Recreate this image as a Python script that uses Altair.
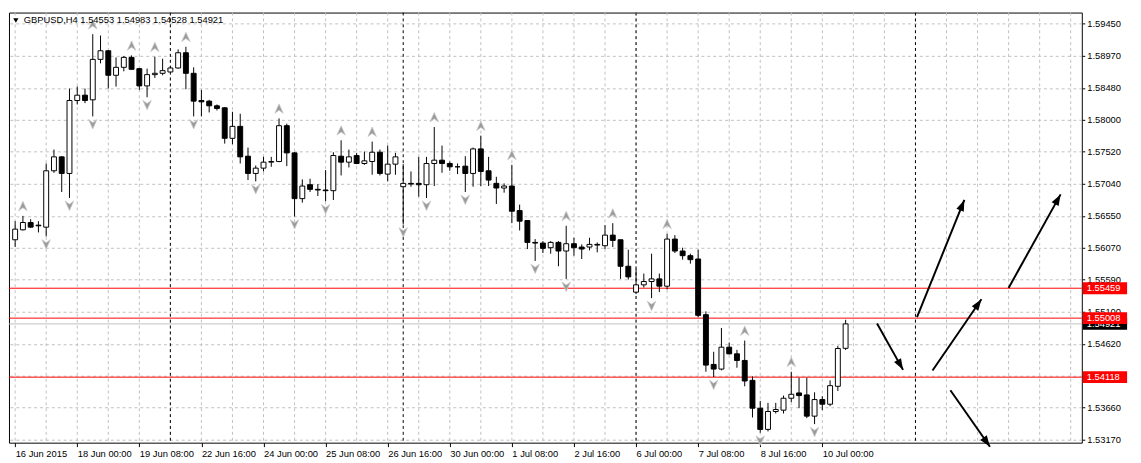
import json
import math
import altair as alt
import pandas as pd

# ---------------- data ----------------
opens = [1.5619, 1.5634, 1.5645, 1.5641, 1.5638, 1.5723, 1.5744, 1.5719, 1.5829, 1.5837,
         1.5830, 1.5891, 1.5904, 1.5867, 1.5879, 1.5894, 1.5877, 1.5851, 1.5868, 1.5870,
         1.5872, 1.5878, 1.5901, 1.5870, 1.5829, 1.5828, 1.5821, 1.5818, 1.5772, 1.5790,
         1.5745, 1.5719, 1.5727, 1.5736, 1.5737, 1.5791, 1.5750, 1.5681, 1.5702, 1.5695,
         1.5694, 1.5693, 1.5745, 1.5736, 1.5746, 1.5734, 1.5737, 1.5751, 1.5718, 1.5733,
         1.5699, 1.5704, 1.5704, 1.5702, 1.5734, 1.5739, 1.5734, 1.5729, 1.5730, 1.5719,
         1.5756, 1.5723, 1.5704, 1.5697, 1.5700, 1.5663, 1.5648, 1.5615, 1.5614, 1.5607,
         1.5615, 1.5602, 1.5613, 1.5608, 1.5608, 1.5612, 1.5610, 1.5626, 1.5619, 1.5579,
         1.5540, 1.5551, 1.5556, 1.5560, 1.5549, 1.5620, 1.5602, 1.5595, 1.5590, 1.5506,
         1.5431, 1.5424, 1.5457, 1.5447, 1.5437, 1.5407, 1.5365, 1.5333, 1.5360, 1.5362,
         1.5380, 1.5388, 1.5385, 1.5353, 1.5378, 1.5371, 1.5398, 1.54553]
highs = [1.5647, 1.5655, 1.5650, 1.5647, 1.5734, 1.5755, 1.5745, 1.5847, 1.5850, 1.5847,
         1.5929, 1.5927, 1.5905, 1.5894, 1.5896, 1.5897, 1.5878, 1.5877, 1.5895, 1.5892,
         1.5881, 1.5906, 1.5910, 1.5879, 1.5845, 1.5830, 1.5823, 1.5819, 1.5812, 1.5809,
         1.5758, 1.5731, 1.5744, 1.5744, 1.5802, 1.5794, 1.5751, 1.5710, 1.5711, 1.5703,
         1.5724, 1.5751, 1.5769, 1.5755, 1.5750, 1.5752, 1.5767, 1.5755, 1.5761, 1.5750,
         1.5733, 1.5722, 1.5744, 1.5744, 1.5789, 1.5761, 1.5737, 1.5734, 1.5745, 1.5758,
         1.5776, 1.5744, 1.5714, 1.5704, 1.5732, 1.5672, 1.5648, 1.5620, 1.5617, 1.5617,
         1.5617, 1.5640, 1.5622, 1.5612, 1.5622, 1.5615, 1.5641, 1.5644, 1.5619, 1.5604,
         1.5575, 1.5568, 1.5598, 1.5568, 1.5628, 1.5626, 1.5607, 1.5598, 1.5604, 1.5511,
         1.5450, 1.5486, 1.5464, 1.5453, 1.5467, 1.5413, 1.5376, 1.5373, 1.5373, 1.5384,
         1.5420, 1.5411, 1.5411, 1.5389, 1.5383, 1.5407, 1.5459, 1.54983]
lows = [1.5608, 1.5633, 1.5637, 1.5630, 1.5624, 1.5720, 1.5691, 1.5682, 1.5823, 1.5825,
        1.5805, 1.5885, 1.5847, 1.5850, 1.5873, 1.5876, 1.5845, 1.5834, 1.5863, 1.5867,
        1.5872, 1.5877, 1.5846, 1.5805, 1.5805, 1.5811, 1.5814, 1.5764, 1.5763, 1.5734,
        1.5709, 1.5707, 1.5722, 1.5729, 1.5736, 1.5730, 1.5654, 1.5675, 1.5691, 1.5685,
        1.5677, 1.5679, 1.5716, 1.5728, 1.5733, 1.5732, 1.5717, 1.5716, 1.5707, 1.5717,
        1.5642, 1.5699, 1.5684, 1.5682, 1.5700, 1.5720, 1.5723, 1.5718, 1.5691, 1.5699,
        1.5700, 1.5700, 1.5673, 1.5690, 1.5644, 1.5633, 1.5605, 1.5587, 1.5599, 1.5598,
        1.5579, 1.5560, 1.5595, 1.5590, 1.5603, 1.5600, 1.5605, 1.5608, 1.5560, 1.5559,
        1.5537, 1.5547, 1.5531, 1.5540, 1.5544, 1.5599, 1.5589, 1.5583, 1.5502, 1.5420,
        1.5412, 1.5422, 1.5446, 1.5426, 1.5398, 1.5351, 1.5328, 1.5330, 1.5357, 1.5357,
        1.5374, 1.5365, 1.5350, 1.5341, 1.5362, 1.5368, 1.5391, 1.54528]
closes = [1.5635, 1.5645, 1.5638, 1.5640, 1.5723, 1.5744, 1.5719, 1.5829, 1.5837, 1.5829,
          1.5891, 1.5904, 1.5867, 1.5879, 1.5894, 1.5876, 1.5851, 1.5868, 1.5870, 1.5874,
          1.5878, 1.5901, 1.5870, 1.5828, 1.5827, 1.5821, 1.5817, 1.5772, 1.5790, 1.5744,
          1.5719, 1.5727, 1.5736, 1.5737, 1.5791, 1.5750, 1.5681, 1.5700, 1.5695, 1.5694,
          1.5693, 1.5746, 1.5736, 1.5744, 1.5734, 1.5738, 1.5751, 1.5719, 1.5733, 1.5744,
          1.5704, 1.5703, 1.5702, 1.5734, 1.5739, 1.5734, 1.5729, 1.5729, 1.5719, 1.5756,
          1.5722, 1.5709, 1.5697, 1.5700, 1.5662, 1.5647, 1.5615, 1.5614, 1.5606, 1.5615,
          1.5602, 1.5613, 1.5607, 1.5605, 1.5612, 1.5611, 1.5626, 1.5618, 1.5579, 1.5563,
          1.5551, 1.5556, 1.5560, 1.5549, 1.5620, 1.5602, 1.5595, 1.5589, 1.5505, 1.5430,
          1.5424, 1.5457, 1.5447, 1.5437, 1.5406, 1.5365, 1.5333, 1.5360, 1.5363, 1.5380,
          1.5386, 1.5384, 1.5353, 1.5378, 1.5371, 1.5399, 1.5455, 1.54921]

fractal_up = [1, 10, 15, 18, 22, 34, 42, 46, 54, 60, 64, 71, 77, 84, 94, 100]
fractal_down = [4, 7, 10, 17, 23, 31, 36, 40, 50, 53, 58, 67, 71, 82, 90, 96, 103]

tick_bars = [0, 8, 16, 24, 32, 40, 48, 56, 64, 72, 80, 88, 96, 104]
tick_labels = ["16 Jun 2015", "18 Jun 00:00", "19 Jun 08:00", "22 Jun 16:00",
               "24 Jun 00:00", "25 Jun 08:00", "26 Jun 16:00", "30 Jun 00:00",
               "1 Jul 08:00", "2 Jul 16:00", "6 Jul 00:00", "7 Jul 08:00",
               "8 Jul 16:00", "10 Jul 00:00"]
price_ticks = [1.59450, 1.58970, 1.58480, 1.58000, 1.57520, 1.57040, 1.56550,
               1.56070, 1.55590, 1.55100, 1.54620, 1.54140, 1.53660, 1.53170]
hidden_tick = 1.54140   # its label sits under the 1.54118 box in the reference
grid_bars = list(range(0, 137, 4))
separators = [20, 50, 80, 116]
red_levels = [1.55459, 1.55008, 1.54118]
bid_level = 1.54921

# hand-drawn trend arrows (bar index, price) start -> end
arr_k0 = [111.05, 116.2, 118.2, 120.5, 128.0]
arr_p0 = [1.54927, 1.55023, 1.54218, 1.53921, 1.55463]
arr_k1 = [114.4, 122.3, 124.5, 125.6, 134.7]
arr_p1 = [1.54228, 1.56790, 1.55293, 1.53068, 1.56874]

symbol = "GBPUSD,H4"

# ---------------- layout / style ----------------
W, H = 1090, 437
X_DOM = [-0.16, 136.8]
Y_DOM = [1.53130, 1.59616]
FONT = "Liberation Sans"
FS = 9.5
GRID = "#c0c0c0"

candles = pd.DataFrame({"k": list(range(len(opens))), "open": opens, "high": highs,
                        "low": lows, "close": closes})
up_df = pd.DataFrame({"k": fractal_up, "price": [highs[i] for i in fractal_up]})
dn_df = pd.DataFrame({"k": fractal_down, "price": [lows[i] for i in fractal_down]})

sx = W / (X_DOM[1] - X_DOM[0])
sy = H / (Y_DOM[1] - Y_DOM[0])
angles = [math.degrees(math.atan2((b - a) * sx, (d - c) * sy)) % 360
          for a, b, c, d in zip(arr_k0, arr_k1, arr_p0, arr_p1)]
arrows = pd.DataFrame({"k0": arr_k0, "k1": arr_k1, "p0": arr_p0, "p1": arr_p1, "ang": angles})

xs = alt.Scale(domain=X_DOM, nice=False, zero=False)
ys = alt.Scale(domain=Y_DOM, nice=False, zero=False)

label_expr = json.dumps(tick_labels) + "[round(datum.value / 8)]"
y_label_expr = f"abs(datum.value - {hidden_tick}) < 0.000001 ? '' : format(datum.value, '.5f')"
x_axis = alt.Axis(values=tick_bars, labelExpr=label_expr, title=None, grid=False,
                  domain=False, tickSize=4, tickColor="black", labelAlign="left",
                  labelBaseline="top", labelPadding=2, labelFont=FONT, labelFontSize=FS,
                  labelColor="black", labelOverlap=False, labelFlush=False, labelBound=False)
y_axis = alt.Axis(orient="right", values=price_ticks, labelExpr=y_label_expr, title=None,
                  grid=True, gridDash=[3, 3], gridColor=GRID, gridOpacity=1, domain=False,
                  tickSize=3, tickColor="black", labelPadding=2, labelAlign="left",
                  labelBaseline="middle", labelFont=FONT, labelFontSize=FS,
                  labelColor="black", labelOverlap=False, labelFlush=False, labelBound=False)

X = alt.X("k:Q", scale=xs, axis=x_axis)
Y = lambda f: alt.Y(f, type="quantitative", scale=ys, axis=y_axis)

vgrid = alt.Chart(pd.DataFrame({"k": grid_bars})).mark_rule(
    color=GRID, strokeDash=[3, 3], strokeWidth=1).encode(x=X)
seps = alt.Chart(pd.DataFrame({"k": separators})).mark_rule(
    color="black", strokeDash=[3, 3], strokeWidth=1).encode(x=X)
reds = alt.Chart(pd.DataFrame({"price": red_levels})).mark_rule(
    color="#ff0000", strokeWidth=1).encode(y=Y("price"))
bid = alt.Chart(pd.DataFrame({"price": [bid_level]})).mark_rule(
    color="#c0c0c0", strokeWidth=1).encode(y=Y("price"))

wicks = alt.Chart(candles).mark_rule(color="black", strokeWidth=1).encode(
    x=X, y=Y("low"), y2="high:Q")
bodies = alt.Chart(candles).mark_bar(size=5, stroke="black", strokeWidth=1).encode(
    x=X, y=Y("open"), y2="close:Q",
    fill=alt.condition("datum.close > datum.open", alt.value("white"), alt.value("black")))

UP_PATH = "M0,-1 L0.9,1 L0,0.35 L-0.9,1 Z"
DN_PATH = "M0,1 L0.9,-1 L0,-0.35 L-0.9,-1 Z"
frac_up = alt.Chart(up_df).mark_point(shape=UP_PATH, size=90, filled=True, fill="#9a9a9a",
                                      stroke="#c8c8c8", strokeWidth=0.8, opacity=1,
                                      yOffset=-10).encode(x=X, y=Y("price"))
frac_dn = alt.Chart(dn_df).mark_point(shape=DN_PATH, size=90, filled=True, fill="#9a9a9a",
                                      stroke="#c8c8c8", strokeWidth=0.8, opacity=1,
                                      yOffset=8).encode(x=X, y=Y("price"))

HEAD = "M0,0 L-0.85,2.4 L0.85,2.4 Z"
tr_lines = alt.Chart(arrows).mark_rule(color="black", strokeWidth=2).encode(
    x=alt.X("k0:Q", scale=xs, axis=x_axis), x2="k1:Q",
    y=alt.Y("p0:Q", scale=ys, axis=y_axis), y2="p1:Q")
tr_heads = alt.Chart(arrows).mark_point(shape=HEAD, size=90, filled=True, color="black",
                                        opacity=1).encode(
    x=alt.X("k1:Q", scale=xs, axis=x_axis), y=alt.Y("p1:Q", scale=ys, axis=y_axis),
    angle=alt.Angle("ang:Q", scale=None))

# price boxes on the right axis
bid_box_df = pd.DataFrame({"price": [bid_level], "txt": [f"{bid_level:.5f}"]})
red_box_df = pd.DataFrame({"price": red_levels, "txt": [f"{v:.5f}" for v in red_levels]})
bid_box = alt.Chart(bid_box_df).mark_rule(color="black", strokeWidth=12).encode(
    x=alt.value(W + 1), x2=alt.value(W + 46), y=Y("price"))
bid_txt = alt.Chart(bid_box_df).mark_text(align="left", baseline="middle", color="white",
                                          font=FONT, fontSize=FS).encode(
    x=alt.value(W + 5), y=Y("price"), text="txt:N")
red_box = alt.Chart(red_box_df).mark_rule(color="#ff0000", strokeWidth=12).encode(
    x=alt.value(W + 1), x2=alt.value(W + 46), y=Y("price"))
red_txt = alt.Chart(red_box_df).mark_text(align="left", baseline="middle", color="white",
                                          font=FONT, fontSize=FS).encode(
    x=alt.value(W + 5), y=Y("price"), text="txt:N")

title_df = pd.DataFrame({"t": [f"{symbol}  {opens[-1]:.5f} {highs[-1]:.5f} {lows[-1]:.5f} {closes[-1]:.5f}"]})
title_txt = alt.Chart(title_df).mark_text(align="left", baseline="middle", color="black",
                                          font=FONT, fontSize=FS).encode(
    x=alt.value(15), y=alt.value(8), text="t:N")
title_tri = alt.Chart(title_df).mark_point(shape="triangle-down", size=28, filled=True,
                                           color="black", opacity=1).encode(
    x=alt.value(7), y=alt.value(8))

chart = alt.layer(
    vgrid, seps, bid, reds, wicks, bodies, frac_up, frac_dn, tr_lines, tr_heads,
    bid_box, bid_txt, red_box, red_txt, title_txt, title_tri
).properties(
    width=W, height=H, padding={"left": 0, "top": 0, "right": 0, "bottom": 0},
    background="white"
).configure_view(stroke="black", strokeWidth=1)

chart.save("out.html", embed_options={"renderer": "svg", "actions": False})
